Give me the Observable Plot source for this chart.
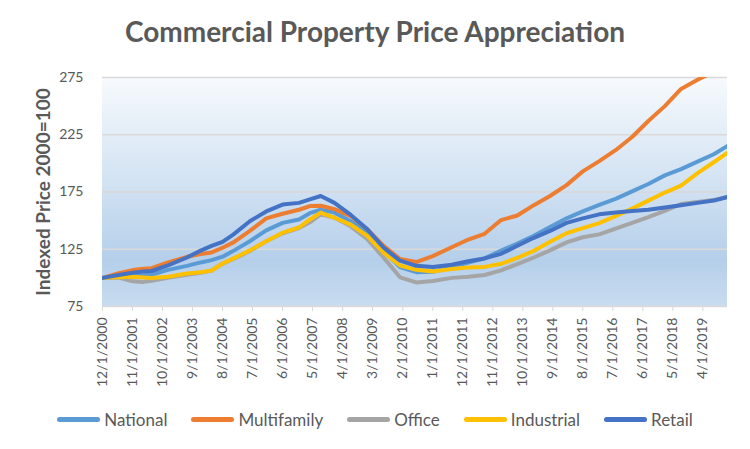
<!DOCTYPE html>
<html><head><meta charset="utf-8">
<script src="https://cdn.jsdelivr.net/npm/d3@7"></script>
<script src="https://cdn.jsdelivr.net/npm/@observablehq/plot@0.6"></script>
<style>
html,body{margin:0;padding:0;background:#fff;}
#wrap{position:relative;width:750px;height:449px;overflow:hidden;font-family:Lato,sans-serif;color:#595959;}
#title{position:absolute;left:0;top:16px;width:750px;text-align:center;font-size:28px;font-weight:700;line-height:30px;color:#595959;}
#chart{position:absolute;left:0;top:60px;}
#legend{position:absolute;left:0;width:750px;top:407px;height:24px;display:flex;justify-content:center;align-items:center;gap:24px;font-size:17px;color:#595959;}
.item{display:flex;align-items:center;gap:4px;}
.sw{width:43px;height:5px;border-radius:2.5px;}
</style></head><body>
<div id="wrap">
<div id="title">Commercial Property Price Appreciation</div>
<div id="chart"></div>
<div id="legend"></div>
</div>
<script>
const seriesNames = ["National","Multifamily","Office","Industrial","Retail"];
const seriesColors = ["#5B9BD5","#ED7D31","#A5A5A5","#FFC000","#4472C4"];
const yTicks = [75,125,175,225,275];
const yLabel = "Indexed Price 2000=100";
const tickLabels = ["12/1/2000","11/1/2001","10/1/2002","9/1/2003","8/1/2004","7/1/2005","6/1/2006","5/1/2007","4/1/2008","3/1/2009","2/1/2010","1/1/2011","12/1/2011","11/1/2012","10/1/2013","9/1/2014","8/1/2015","7/1/2016","6/1/2017","5/1/2018","4/1/2019"];
const dates = ["2000-12","2001-06","2001-11","2002-03","2002-06","2002-12","2003-07","2003-12","2004-04","2004-08","2004-12","2005-06","2005-12","2006-06","2006-12","2007-04","2007-08","2008-01","2008-07","2009-01","2009-07","2010-01","2010-07","2011-01","2011-08","2012-02","2012-08","2013-02","2013-08","2014-02","2014-08","2015-02","2015-08","2016-02","2016-08","2017-02","2017-08","2018-02","2018-08","2019-02","2019-08","2020-01"];
const national =    [100,101,101.8,102.2,102.7,107,110.5,113.5,115.5,118.5,123.6,132,141.5,148,151,156.5,159.5,157,149.5,139.5,123.6,109.5,105,105.3,109.3,113.4,117,123.8,130,136.7,144.5,152,158,163.7,169,175.5,182,189.5,195,201.5,208,215.2];
const multifamily = [100,104,106.8,108,108.5,113.5,118.4,120.8,122.2,126.3,131,141,152,156,159.5,162.7,163,160,154,142.5,128,116.5,113.8,119,126.8,133.5,138.5,150.5,154.5,163.5,171.5,181,193,202,211.5,223,237,250,265,273,280,287];
const office =      [100,100.3,97,96.5,97.5,100,102.7,104.5,106.5,112.5,116.5,123.5,132,139,143.5,148.5,155.5,152.5,145,133.8,117.8,100.5,96,97.3,100,101,102.5,106.5,112,117.8,124,131,135.5,138,143,148,153,158.5,164.5,166.3,168,170.7];
const industrial =  [100,100.5,100.9,100.3,99.8,101,103.8,105,106.5,112.5,117,124,132,139.5,144,151,157,152.5,146.5,136.7,122,110.8,107,105.5,107.8,109,109.6,112.3,117.5,123.6,131.5,139,143.5,147.8,154,160.5,167.5,174.5,180.5,191.5,201,209.4];
const retail =      [100,102.5,104.5,105.5,106,111,117.8,123.8,128,131.5,138,149.5,158,164,165.5,168.5,171.5,165.5,155,142.5,126.5,115,110.5,109.5,111.5,114.5,117,121,128,135,141,148,152,155.5,157,158.5,159.5,161.5,163.5,165.5,167.5,170.7];
const seriesValues = [national,multifamily,office,industrial,retail];

const parseYM = d3.utcParse("%Y-%m");
const parseTick = d3.utcParse("%m/%d/%Y");
const tickDates = tickLabels.map(parseTick);
const rows = [];
seriesNames.forEach((s,k)=>dates.forEach((d,i)=>rows.push({series:s,date:parseYM(d),value:seriesValues[k][i]})));

function background(index, scales, values, dimensions) {
  const g = d3.create("svg:g");
  const lg = g.append("defs").append("linearGradient").attr("id","bg").attr("x1",0).attr("y1",0).attr("x2",0).attr("y2",1);
  [[0,"#f7fafd"],[0.45,"#d3e3f3"],[0.8,"#b5cfea"],[1,"#c9dcf0"]].forEach(([o,c])=>lg.append("stop").attr("offset",o).attr("stop-color",c));
  const x0 = scales.x(parseYM(dates[0])), x1 = scales.x(parseYM(dates[dates.length-1]));
  const y0 = scales.y(yTicks[yTicks.length-1]), y1 = scales.y(yTicks[0]);
  g.append("rect").attr("x",x0).attr("y",y0).attr("width",x1-x0).attr("height",y1-y0).attr("fill","url(#bg)");
  return g.node();
}

const lines = seriesNames.map((s,k)=>Plot.line(rows.filter(r=>r.series===s),{x:"date",y:"value",stroke:seriesColors[k],strokeWidth:4,strokeLinejoin:"round",strokeLinecap:"round",clip:true}));

const chart = Plot.plot({
  width:750, height:340,
  marginTop:17, marginBottom:94, marginLeft:102, marginRight:23,
  style:{fontFamily:"Lato, sans-serif", color:"#595959", background:"transparent", overflow:"visible"},
  x:{type:"utc", domain:[parseYM(dates[0]), parseYM(dates[dates.length-1])]},
  y:{domain:[yTicks[0], yTicks[yTicks.length-1]]},
  marks:[
    background,
    Plot.gridY(yTicks.slice(1),{stroke:"#d9d9d9",strokeOpacity:1,strokeWidth:1.5}),
    Plot.ruleY([yTicks[0]],{stroke:"#d9d9d9",strokeWidth:1.5}),
    Plot.axisY(yTicks,{tickSize:0,tickPadding:19,fontSize:14,label:null,fill:"#595959"}),
    Plot.axisX(tickDates,{tickFormat:d3.utcFormat("%-m/%-d/%Y"),tickRotate:-90,tickSize:5,tickPadding:6,stroke:"#d9d9d9",fill:"#595959",fontSize:14,label:null}),
    ...lines,
    Plot.text([yLabel],{text:d=>d,frameAnchor:"left",textAnchor:"middle",dx:-59,rotate:-90,fontSize:19,fontWeight:"bold",fill:"#595959"})
  ]
});
document.getElementById("chart").appendChild(chart);

const legend = document.getElementById("legend");
seriesNames.forEach((s,k)=>{
  const it = document.createElement("div"); it.className="item";
  const sw = document.createElement("div"); sw.className="sw"; sw.style.background=seriesColors[k];
  const tx = document.createElement("span"); tx.textContent=s;
  it.appendChild(sw); it.appendChild(tx); legend.appendChild(it);
});
</script>
</body></html>
